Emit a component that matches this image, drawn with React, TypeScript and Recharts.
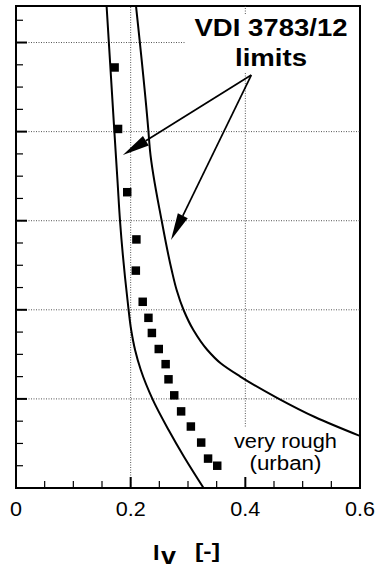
import React from 'react';
import { ComposedChart, Line, Scatter, XAxis, YAxis, ZAxis, ReferenceLine, ReferenceArea, Label } from 'recharts';

// axis ticks
const xTicks = [0, 0.05, 0.1, 0.15, 0.2, 0.25, 0.3, 0.35, 0.4, 0.45, 0.5, 0.55, 0.6];
const xMajor = [0, 0.2, 0.4, 0.6];
const yTicks = [0, 0.25, 0.5, 0.75, 1, 1.25, 1.5, 1.75, 2, 2.25, 2.5, 2.75, 3, 3.25, 3.5, 3.75, 4, 4.25, 4.5, 4.75, 5, 5.25];
const yMajor = [0, 1, 2, 3, 4, 5];
const yTop = 5.41;

// VDI 3783/12 limit curves (very rough, urban), listed bottom to top
const lowerLimit = [
  { iv: 0.3272, z: 0 },
  { iv: 0.293, z: 0.351 },
  { iv: 0.2662, z: 0.651 },
  { iv: 0.2383, z: 0.995 },
  { iv: 0.2177, z: 1.324 },
  { iv: 0.2077, z: 1.549 },
  { iv: 0.2009, z: 1.773 },
  { iv: 0.1945, z: 2.11 },
  { iv: 0.1814, z: 3.0 },
  { iv: 0.1773, z: 3.42 },
  { iv: 0.1714, z: 4.02 },
  { iv: 0.158, z: 5.41 },
];

const upperLimit = [
  { iv: 0.6, z: 0.584 },
  { iv: 0.5212, z: 0.797 },
  { iv: 0.4561, z: 1.01 },
  { iv: 0.3912, z: 1.251 },
  { iv: 0.357, z: 1.4 },
  { iv: 0.3338, z: 1.549 },
  { iv: 0.3094, z: 1.773 },
  { iv: 0.2923, z: 1.998 },
  { iv: 0.2802, z: 2.222 },
  { iv: 0.2715, z: 2.446 },
  { iv: 0.2541, z: 3.0 },
  { iv: 0.2337, z: 3.79 },
  { iv: 0.2308, z: 4.02 },
  { iv: 0.2093, z: 5.41 },
];

// measured turbulence intensity
const measured = [
  { iv: 0.172, z: 4.72 },
  { iv: 0.178, z: 4.03 },
  { iv: 0.194, z: 3.32 },
  { iv: 0.21, z: 2.79 },
  { iv: 0.209, z: 2.44 },
  { iv: 0.221, z: 2.09 },
  { iv: 0.231, z: 1.91 },
  { iv: 0.237, z: 1.74 },
  { iv: 0.249, z: 1.56 },
  { iv: 0.261, z: 1.39 },
  { iv: 0.266, z: 1.22 },
  { iv: 0.276, z: 1.04 },
  { iv: 0.288, z: 0.86 },
  { iv: 0.305, z: 0.69 },
  { iv: 0.323, z: 0.51 },
  { iv: 0.335, z: 0.33 },
  { iv: 0.351, z: 0.25 },
];

const font = '"Liberation Sans", Arial, sans-serif';
const isMajor = (v: number, list: number[]) => list.some(m => Math.abs(m - v) < 1e-6);

const XTick = (props: any) => {
  const { x, y, payload } = props;
  const major = isMajor(payload.value, xMajor);
  const text = String(payload.value);
  return (
    <g>
      <line x1={x} y1={y} x2={x} y2={y - (major ? 11 : 7)} stroke="#000" strokeWidth={major ? 2 : 1.2} />
      {major && (
        <text
          x={x}
          y={y + 28}
          textAnchor="middle"
          fontSize={21}
          fontFamily={font}
          fill="#000"
          textLength={text.length === 1 ? 12 : 30}
          lengthAdjust="spacingAndGlyphs"
        >
          {text}
        </text>
      )}
    </g>
  );
};

const YTick = (props: any) => {
  const { x, y, payload } = props;
  const major = isMajor(payload.value, yMajor);
  return <line x1={x} y1={y} x2={x + (major ? 11 : 7)} y2={y} stroke="#000" strokeWidth={major ? 2 : 1.2} />;
};

const Arrow = (props: any) => {
  const { x1, y1, x2, y2 } = props;
  const dx = x2 - x1;
  const dy = y2 - y1;
  const len = Math.hypot(dx, dy) || 1;
  const ux = dx / len;
  const uy = dy / len;
  const hl = 27;
  const hw = 5.5;
  const bx = x2 - ux * hl;
  const by = y2 - uy * hl;
  const pts = `${x2},${y2} ${bx - uy * hw},${by + ux * hw} ${bx + uy * hw},${by - ux * hw}`;
  return (
    <g>
      <line x1={x1} y1={y1} x2={bx} y2={by} stroke="#000" strokeWidth={1.7} />
      <polygon points={pts} fill="#000" />
    </g>
  );
};

const gridStyle = { stroke: '#555', strokeWidth: 1, strokeDasharray: '1 1.5' };

export default function App() {
  return (
    <div style={{ position: 'absolute', left: 0, top: 0, background: '#fff' }}>
      <ComposedChart width={376} height={576} margin={{ top: 6, right: 16, bottom: 0, left: 0 }}>
        <XAxis
          type="number"
          dataKey="iv"
          domain={[0, 0.6]}
          ticks={xTicks}
          interval={0}
          allowDataOverflow
          height={88}
          tickSize={0}
          tickMargin={0}
          axisLine={false}
          tickLine={false}
          tick={<XTick />}
        >
          <Label
            content={(p: any) => {
              const vb = p.viewBox || { x: 16, y: 488, width: 344 };
              const cx = vb.x + vb.width / 2;
              const by = vb.y + 72;
              return (
                <g fontFamily={font} fontWeight="bold" fill="#000">
                  <text x={cx - 35} y={by} fontSize={22} textLength={6.5} lengthAdjust="spacingAndGlyphs">I</text>
                  <text x={cx - 27} y={by + 4} fontSize={23} textLength={15} lengthAdjust="spacingAndGlyphs">v</text>
                  <text x={cx + 7} y={by - 2} fontSize={21} textLength={25} lengthAdjust="spacingAndGlyphs">[-]</text>
                </g>
              );
            }}
          />
        </XAxis>
        <YAxis
          type="number"
          dataKey="z"
          domain={[0, yTop]}
          ticks={yTicks}
          interval={0}
          allowDataOverflow
          width={16}
          tickSize={0}
          tickMargin={0}
          axisLine={false}
          tickLine={false}
          tick={<YTick />}
        />
        <ZAxis range={[72, 72]} />

        {/* dotted grid, broken where the annotations sit */}
        <ReferenceLine segment={[{ x: 0.2, y: 0 }, { x: 0.2, y: yTop }]} {...gridStyle} />
        <ReferenceLine segment={[{ x: 0.4, y: 0.69 }, { x: 0.4, y: 4.66 }]} {...gridStyle} />
        <ReferenceLine segment={[{ x: 0.4, y: 5.32 }, { x: 0.4, y: yTop }]} {...gridStyle} />
        <ReferenceLine segment={[{ x: 0, y: 1 }, { x: 0.6, y: 1 }]} {...gridStyle} />
        <ReferenceLine segment={[{ x: 0, y: 2 }, { x: 0.6, y: 2 }]} {...gridStyle} />
        <ReferenceLine segment={[{ x: 0, y: 3 }, { x: 0.6, y: 3 }]} {...gridStyle} />
        <ReferenceLine segment={[{ x: 0, y: 4 }, { x: 0.6, y: 4 }]} {...gridStyle} />
        <ReferenceLine segment={[{ x: 0, y: 5 }, { x: 0.295, y: 5 }]} {...gridStyle} />

        <Line data={lowerLimit} dataKey="z" type="monotoneY" stroke="#000" strokeWidth={2} dot={false} isAnimationActive={false} />
        <Line data={upperLimit} dataKey="z" type="monotoneY" stroke="#000" strokeWidth={2} dot={false} isAnimationActive={false} />
        <Scatter data={measured} dataKey="z" shape="square" fill="#000" isAnimationActive={false} />

        <ReferenceLine segment={[{ x: 0.4104, y: 4.635 }, { x: 0.1865, y: 3.737 }]} shape={<Arrow />} />
        <ReferenceLine segment={[{ x: 0.4104, y: 4.635 }, { x: 0.2703, y: 2.783 }]} shape={<Arrow />} />

        <ReferenceArea
          x1={0.3}
          x2={0.6}
          y1={4.67}
          y2={5.32}
          fill="none"
          stroke="none"
          label={(p: any) => {
            const vb = p.viewBox;
            const cx = vb.x + vb.width / 2 - 3;
            return (
              <g fontFamily={font} fontWeight="bold" fill="#000">
                <text x={cx} y={vb.y + 22} textAnchor="middle" fontSize={23} textLength={153} lengthAdjust="spacingAndGlyphs">VDI 3783/12</text>
                <text x={cx} y={vb.y + 52} textAnchor="middle" fontSize={23} textLength={72} lengthAdjust="spacingAndGlyphs">limits</text>
              </g>
            );
          }}
        />
        <ReferenceArea
          x1={0.37}
          x2={0.57}
          y1={0.14}
          y2={0.69}
          fill="none"
          stroke="none"
          label={(p: any) => {
            const vb = p.viewBox;
            const cx = vb.x + vb.width / 2;
            return (
              <g fontFamily={font} fill="#000">
                <text x={cx} y={vb.y + 21} textAnchor="middle" fontSize={20} textLength={103} lengthAdjust="spacingAndGlyphs">very rough</text>
                <text x={cx} y={vb.y + 43} textAnchor="middle" fontSize={20} textLength={72} lengthAdjust="spacingAndGlyphs">(urban)</text>
              </g>
            );
          }}
        />

        {/* plot frame */}
        <ReferenceArea x1={0} x2={0.6} y1={0} y2={yTop} fill="none" stroke="#000" strokeWidth={2} />
      </ComposedChart>
    </div>
  );
}
